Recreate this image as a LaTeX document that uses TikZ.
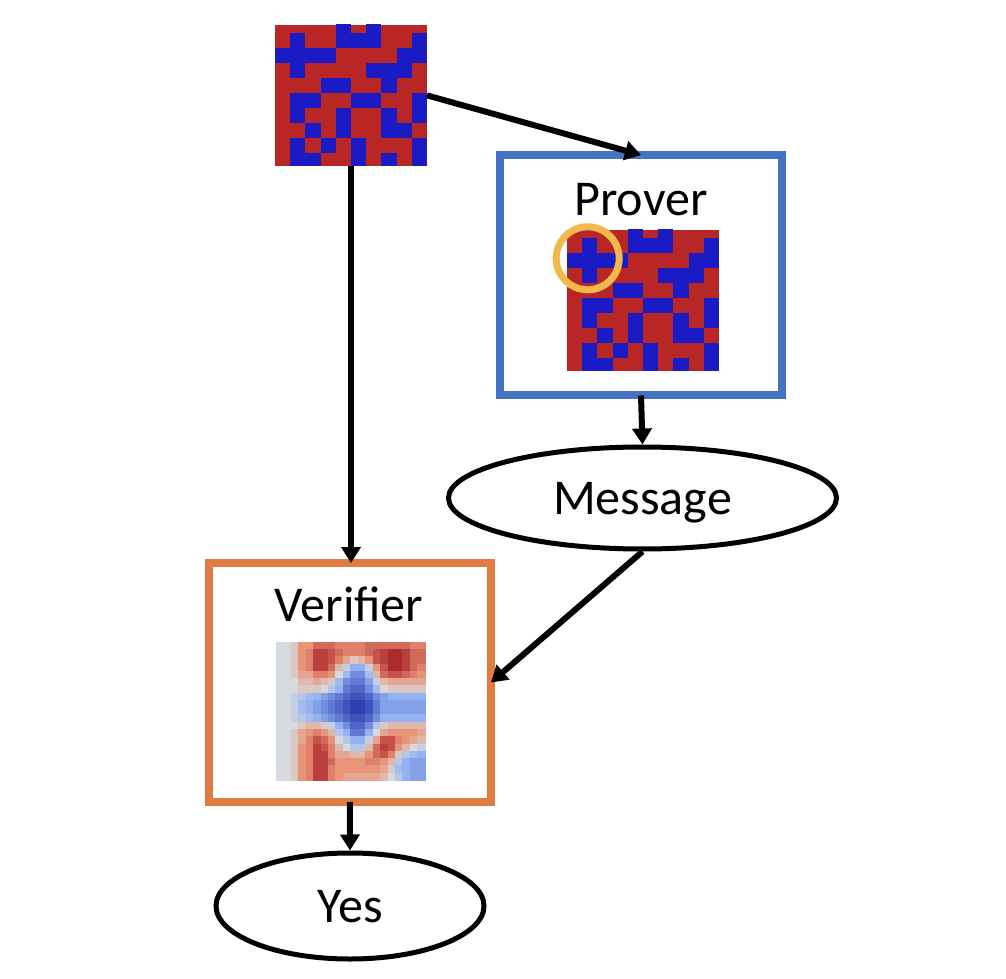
\documentclass[tikz,border=0pt]{standalone}
\usepackage{fontspec}
\setmainfont{Carlito}
\usepackage{tikz}
\usetikzlibrary{arrows.meta,positioning,calc,shapes.geometric}
\definecolor{GridRed}{HTML}{B82626}
\definecolor{GridBlue}{HTML}{1B1BC6}
\definecolor{ProverBlue}{HTML}{4472C4}
\definecolor{VerifierOrange}{HTML}{E07B42}
\definecolor{HitGold}{HTML}{F2B84B}
\definecolor{HmGrey}{HTML}{D6D9DE}
\definecolor{HmSalmon}{HTML}{E99478}
\definecolor{HmRed}{HTML}{A3141E}
\definecolor{HmLight}{HTML}{93B2F2}
\definecolor{HmBlue}{HTML}{2E40B2}
\newcommand{\bigfont}{\fontsize{28.5}{34}\selectfont}
\tikzset{
  flowarrow/.style={-{Triangle[length=0.32cm,width=0.38cm]}, line width=0.12cm, draw=black},
  proverbox/.style={draw=ProverBlue, line width=0.16cm, minimum width=5.64cm, minimum height=4.81cm, inner sep=0pt, outer sep=0pt},
  verifierbox/.style={draw=VerifierOrange, line width=0.16cm, minimum width=5.65cm, minimum height=4.78cm, inner sep=0pt, outer sep=0pt},
  bubble/.style={ellipse, draw=black, fill=white, line width=0.1cm, inner sep=0pt, text depth=0pt, font=\bigfont},
  hitring/.style={circle, draw=HitGold, line width=0.14cm, minimum size=1.26cm, inner sep=0pt},
  boxtitle/.style={anchor=base, font=\bigfont},
  imgslot/.style={inner sep=0pt, outer sep=0pt},
}
% input board, cropped at top and bottom
\newcommand{\bitgrid}[2]{%
  \begin{scope}
    \clip (#1,#2) rectangle ++(3.04,-2.815);
    \fill[GridRed] (#1,#2) rectangle ++(3.04,-2.815);
    \foreach \row [count=\r from 0] in {{0,0,0,0,1,0,1,0,0,0},{0,1,0,0,1,1,1,0,0,1},
        {1,1,1,1,0,0,0,0,1,1},{0,1,0,0,0,0,1,1,1,0},{0,0,0,1,1,0,0,1,0,0},
        {0,1,1,0,0,1,1,0,0,1},{0,1,0,0,1,0,0,1,0,1},{0,0,1,0,1,0,0,1,1,0},
        {0,1,0,1,0,1,0,0,0,1},{0,1,1,0,0,1,0,1,0,1}}
      \foreach \b [count=\c from 0] in \row {
        \ifnum\b=1
          \fill[GridBlue] ({#1+0.304*\c},{#2+0.146-0.3*\r}) rectangle ++(0.304,-0.3);
        \fi
      };
  \end{scope}}
% heat value -10..10 -> colour hm
\newcommand{\hmset}[1]{%
  \ifnum#1>4\relax
    \pgfmathtruncatemacro\hp{((#1)-4)*100/6}\colorlet{hm}{HmRed!\hp!HmSalmon}%
  \else\ifnum#1>0\relax
    \pgfmathtruncatemacro\hp{(#1)*25}\colorlet{hm}{HmSalmon!\hp!HmGrey}%
  \else\ifnum#1>-5\relax
    \pgfmathtruncatemacro\hp{(0-(#1))*25}\colorlet{hm}{HmLight!\hp!HmGrey}%
  \else
    \pgfmathtruncatemacro\hp{(0-(#1)-4)*100/6}\colorlet{hm}{HmBlue!\hp!HmLight}%
  \fi\fi\fi}
\begin{document}
\begin{tikzpicture}[x=1cm,y=1cm]
\path[use as bounding box] (0,0) rectangle (20.12,19.56);
\fill[white] (0,0) rectangle (20.12,19.56);

% input and prover
\node[imgslot,minimum width=3.04cm,minimum height=2.815cm] (input) at (7.02,17.6525) {};
\bitgrid{5.5}{19.06}
\node[proverbox] (prover) at (12.82,14.055) {};
\node[boxtitle] (provertxt) at (12.82,15.24) {Prover};
\bitgrid{11.34}{14.96}
\node[hitring] (hit) at (11.754,14.394) {};

\node[bubble,minimum width=7.76cm,minimum height=2.04cm] (message) at (12.85,9.60) {Message};

% verifier with its heat map
\node[verifierbox] (verifier) at (6.995,5.91) {};
\node[boxtitle] (verifiertxt) at (6.98,7.126) {Verifier};
\foreach \row [count=\r from 0] in {
    {0,0,1,4,4,6,6,6,5,5,5,5,6,6,6,6,6,6,5,5},
    {0,0,1,4,5,8,8,7,6,5,5,5,6,7,8,9,9,8,6,6},
    {0,0,1,4,5,8,8,7,5,3,1,2,4,7,8,9,9,8,6,6},
    {0,0,1,4,5,8,8,6,2,-1,-4,-4,-1,4,7,9,9,8,6,5},
    {0,0,1,3,3,5,5,4,0,-3,-6,-6,-3,2,6,7,7,6,5,4},
    {0,0,0,2,2,3,2,1,-3,-6,-7,-7,-5,-1,2,3,3,3,3,3},
    {0,0,0,1,1,1,0,-2,-4,-7,-8,-8,-6,-3,0,1,1,1,1,1},
    {0,0,-1,-2,-3,-4,-5,-6,-7,-8,-9,-9,-8,-6,-5,-4,-4,-4,-4,-4},
    {0,0,-1,-3,-4,-5,-6,-7,-8,-9,-10,-10,-9,-7,-5,-5,-5,-5,-5,-5},
    {0,0,-1,-3,-4,-5,-6,-7,-8,-9,-10,-10,-9,-7,-5,-5,-5,-5,-5,-5},
    {0,0,-1,-2,-3,-4,-5,-6,-7,-8,-9,-9,-8,-6,-4,-4,-4,-4,-4,-4},
    {0,0,0,1,2,2,1,-1,-4,-6,-8,-8,-6,-2,1,2,2,2,2,2},
    {0,0,1,3,4,5,4,2,-2,-4,-7,-7,-4,0,3,4,4,4,4,3},
    {0,0,1,3,5,7,6,4,0,-2,-4,-4,-1,3,7,7,5,4,3,2},
    {0,0,1,4,5,8,7,5,2,0,-2,-2,2,6,8,7,4,2,0,-1},
    {0,0,1,4,5,8,8,5,3,3,2,2,4,6,7,5,1,-2,-3,-4},
    {0,0,1,4,5,8,8,6,4,4,4,4,5,5,4,2,-2,-4,-5,-5},
    {0,0,1,4,5,8,8,5,4,4,4,4,4,4,3,1,-3,-4,-5,-5},
    {0,0,1,4,5,8,8,5,4,3,3,3,3,3,2,0,-2,-4,-5,-5}}
  \foreach \v [count=\c from 0] in \row {
    \hmset{\v}
    \fill[hm,draw=hm,line width=0.2pt] ({5.52+0.149*\c},{6.72-0.1453*\r}) rectangle ++(0.149,-0.1453);
  };

\node[bubble,minimum width=5.36cm,minimum height=2.12cm] (yes) at (7.0,1.44) {Yes};

\draw[flowarrow] (input.east) -- (prover.north);
\draw[flowarrow] (input.south) -- (input.south |- verifier.north);
\draw[flowarrow] (prover.south) -- (message.north);
\draw[flowarrow] (message.south) -- (verifier.east);
\draw[flowarrow] (verifier.south) -- (yes.north);
\end{tikzpicture}
\end{document}
